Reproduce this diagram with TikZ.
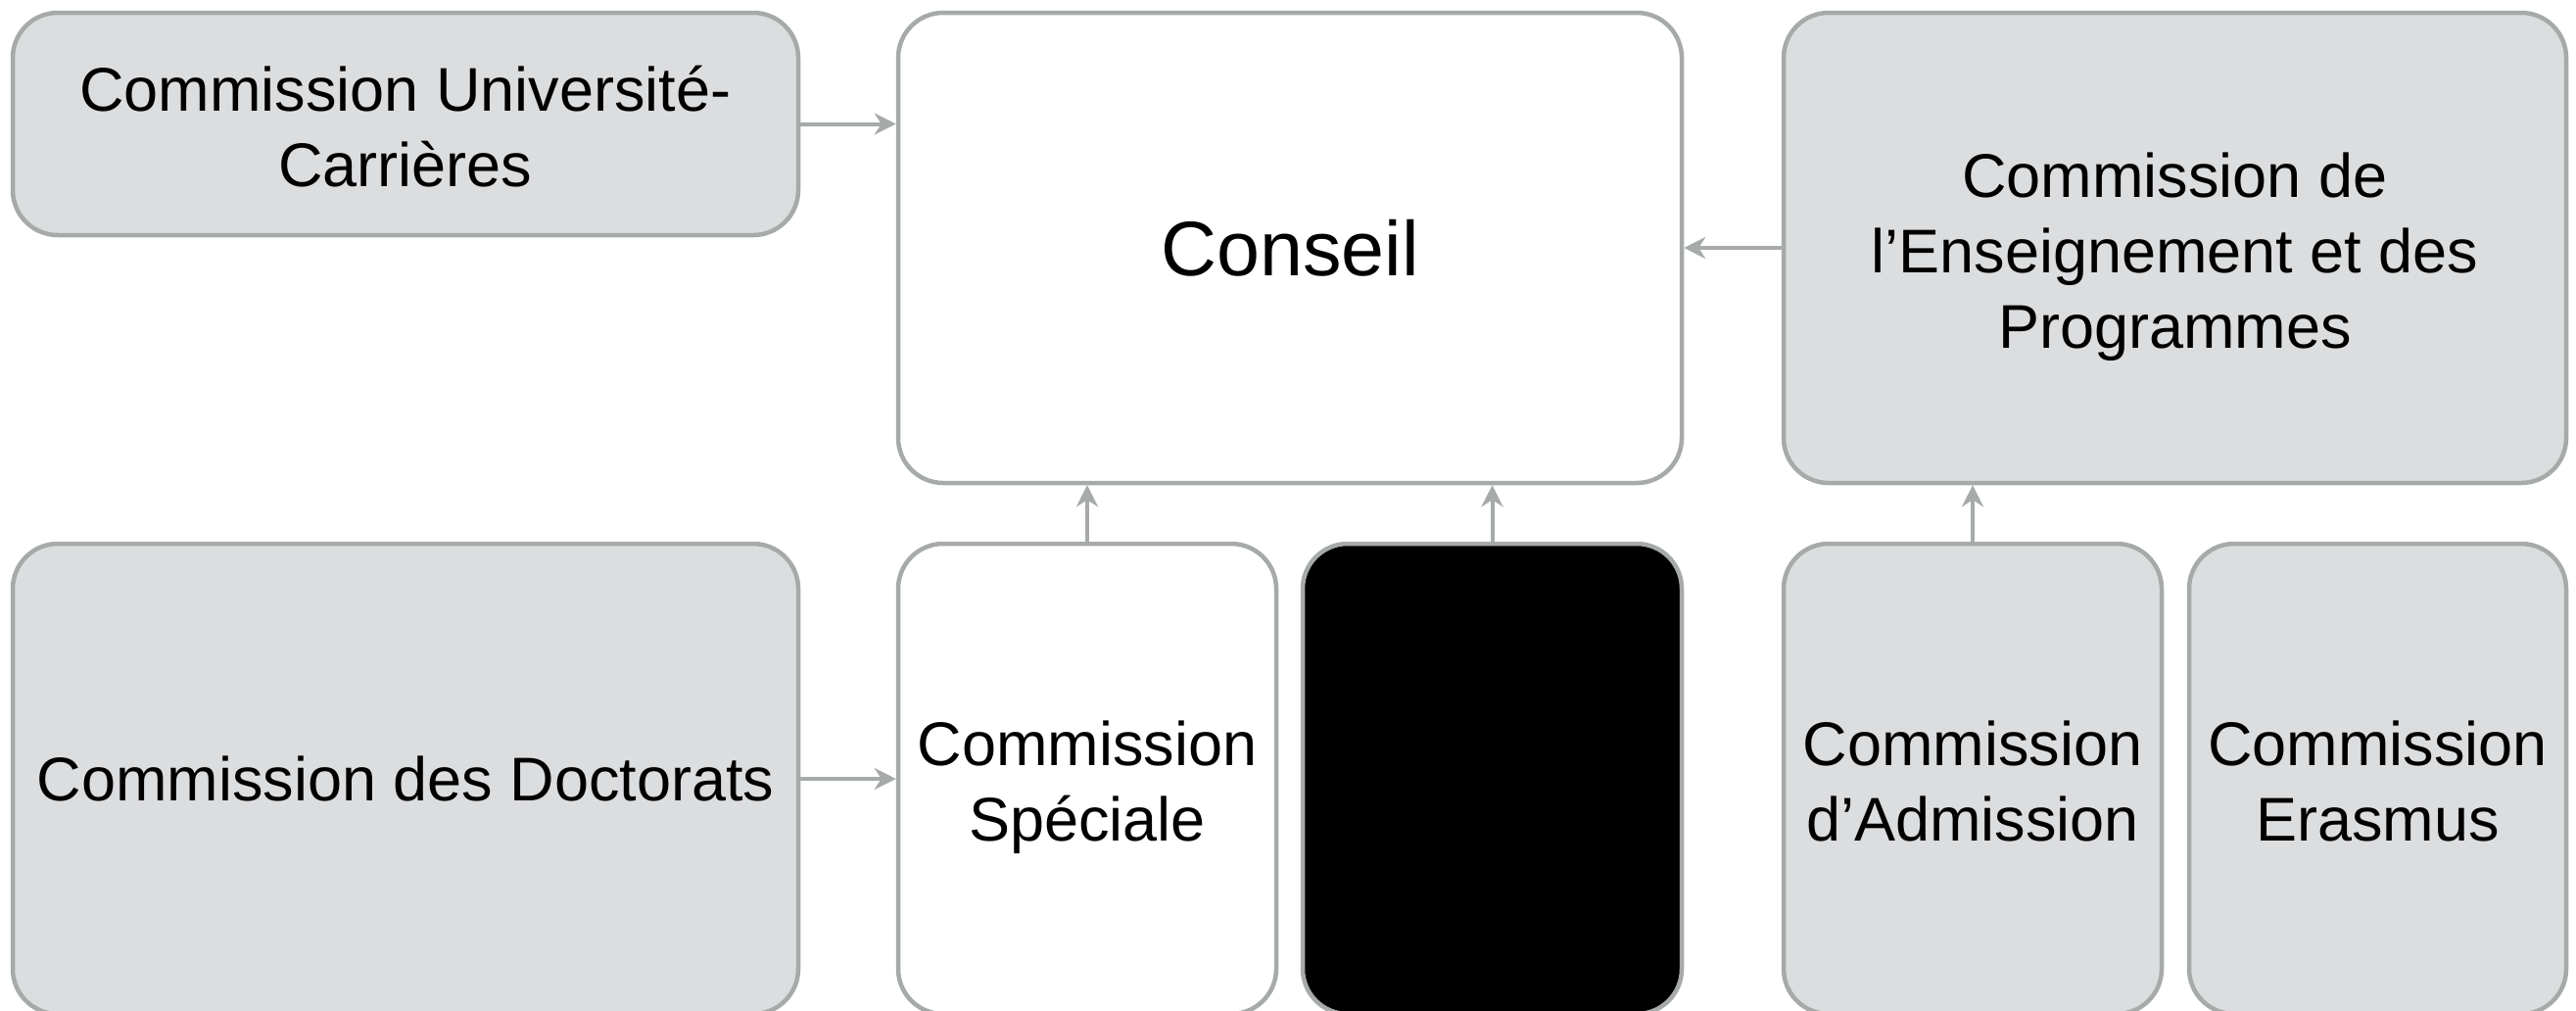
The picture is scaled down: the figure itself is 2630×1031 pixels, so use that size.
\documentclass[tikz,border=0pt]{standalone}
\usepackage{fontspec}
\setmainfont{Liberation Sans}
\usetikzlibrary{arrows.meta}
\definecolor{edgegray}{HTML}{A6AAA9}
\definecolor{boxgray}{HTML}{DCDDDF}
\newcommand\myTS{\rule{0pt}{64pt}}
\newcommand\myBS{\rule[-14pt]{0pt}{14pt}}
\begin{document}
\begin{tikzpicture}[x=1pt,y=-1pt,
  box/.style={draw=edgegray, line width=4.5pt, rounded corners=46pt, fill=boxgray,
    align=center, inner sep=0pt, font=\fontsize{63}{77}\selectfont},
  whitebox/.style={box, fill=white},
  blackbox/.style={box, fill=black},
  bottombox/.style={minimum height=480pt},
  conn/.style={draw=edgegray, line width=4pt, -{Stealth[length=22pt,width=22pt,inset=7pt]}}
]
\useasboundingbox (0,0) rectangle (2630,1031);
% top row
\node[box, minimum width=802pt, minimum height=227pt] (uc) at (414,126.5) {\myTS Commission Université-\\Carrières\myBS};
\node[whitebox, minimum width=800pt, minimum height=480pt, font=\fontsize{79}{95}\selectfont] (conseil) at (1317,253) {Conseil};
\node[box, minimum width=799pt, minimum height=480pt] (ens) at (2220.5,253) {\myTS Commission de\\l’Enseignement et des\\Programmes\myBS};
% bottom row
\node[box, bottombox, minimum width=802pt] (doc) at (414,795) {Commission des Doctorats};
\node[whitebox, bottombox, minimum width=386pt] (spec) at (1110,795) {\myTS Commission\\Spéciale\myBS};
\node[blackbox, bottombox, minimum width=387pt] (blk) at (1523.5,795) {};
\node[box, bottombox, minimum width=386pt] (adm) at (2014,795) {\myTS Commission\\d’Admission\myBS};
\node[box, bottombox, minimum width=385pt] (era) at (2427.5,795) {\myTS Commission\\Erasmus\myBS};
% connectors
\draw[conn] (uc.east) -- (conseil.west |- uc.east);
\draw[conn] (ens.west) -- (conseil.east);
\draw[conn] (spec.north) -- (spec.north |- conseil.south);
\draw[conn] (blk.north) -- (blk.north |- conseil.south);
\draw[conn] (adm.north) -- (adm.north |- ens.south);
\draw[conn] (doc.east) -- (spec.west);
\end{tikzpicture}
\end{document}
